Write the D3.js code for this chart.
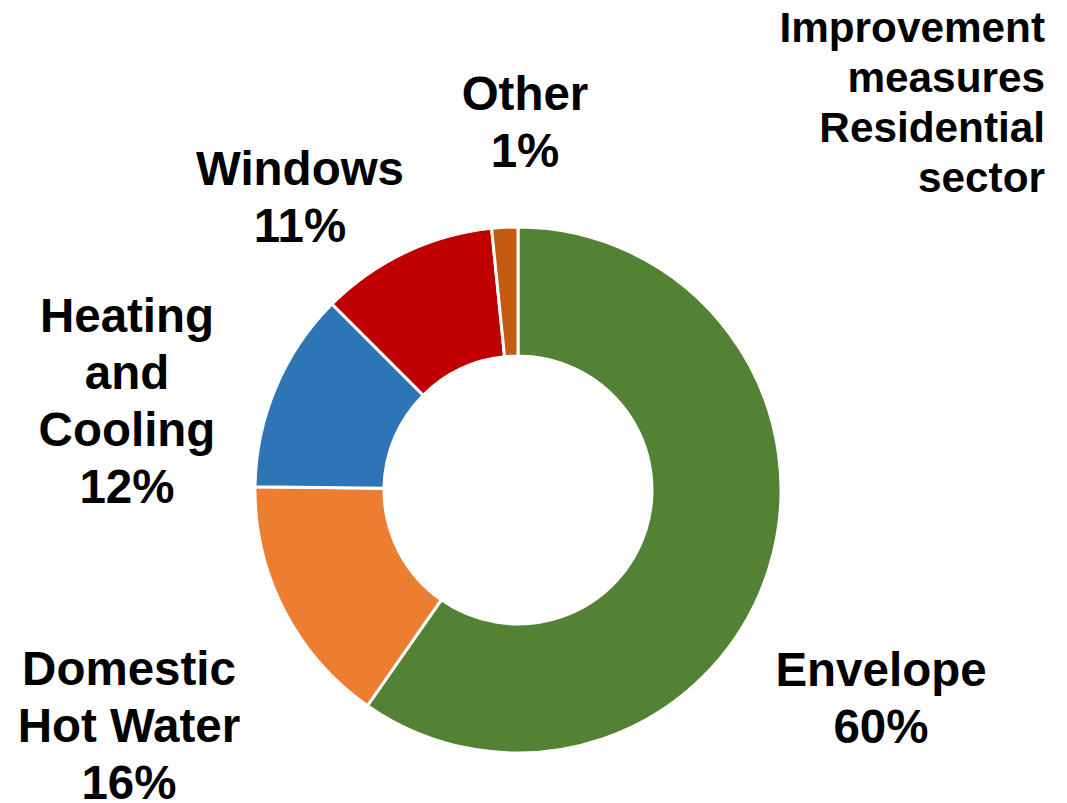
<!DOCTYPE html>
<html>
<head>
<meta charset="utf-8">
<script src="https://cdn.jsdelivr.net/npm/d3@7"></script>
<style>
  html, body { margin: 0; padding: 0; background: #ffffff; }
  svg { display: block; }
  text { font-family: "Liberation Sans", Arial, sans-serif; font-weight: bold; fill: #000; }
</style>
</head>
<body>
<svg id="chart" width="1067" height="803"></svg>
<script>
// ---- data ----
const categories = ["Envelope", "Domestic Hot Water", "Heating and Cooling", "Windows", "Other"];
const values = [59.7, 15.5, 12.3, 10.9, 1.6];
const percentLabels = ["60%", "16%", "12%", "11%", "1%"];
const labelLines = [["Envelope"], ["Domestic", "Hot Water"], ["Heating", "and", "Cooling"], ["Windows"], ["Other"]];
const colors = ["#548235", "#ED7D31", "#2E75B6", "#C00000", "#C55A11"];
const titleLines = ["Improvement", "measures", "Residential", "sector"];

// ---- layout ----
const W = 1067, H = 803;
const cx = 518, cy = 490, outerR = 263, innerR = 134;
// label anchor: center x, baseline of first line
const labelPos = [
  { x: 881, y: 686 },
  { x: 129, y: 685 },
  { x: 127, y: 332 },
  { x: 300, y: 185 },
  { x: 525, y: 110 }
];
const lineH = 57;

const svg = d3.select("#chart");

const pie = d3.pie().sort(null).value(d => d.value);
const arc = d3.arc().innerRadius(innerR).outerRadius(outerR);

const data = categories.map((c, i) => ({ name: c, value: values[i], color: colors[i], pct: percentLabels[i], lines: labelLines[i] }));

const g = svg.append("g").attr("transform", `translate(${cx},${cy})`);
g.selectAll("path")
  .data(pie(data))
  .join("path")
  .attr("d", arc)
  .attr("fill", d => d.data.color)
  .attr("stroke", "#ffffff")
  .attr("stroke-width", 3)
  .attr("stroke-linejoin", "miter");

// labels
data.forEach((d, i) => {
  const lines = d.lines.concat([d.pct]);
  const t = svg.append("text")
    .attr("text-anchor", "middle")
    .attr("font-size", 47.5);
  lines.forEach((ln, j) => {
    t.append("tspan")
      .attr("x", labelPos[i].x)
      .attr("y", labelPos[i].y + j * lineH)
      .text(ln);
  });
});

// title
const tt = svg.append("text")
  .attr("text-anchor", "end")
  .attr("font-size", 42.3);
titleLines.forEach((ln, j) => {
  tt.append("tspan")
    .attr("x", 1045)
    .attr("y", 42 + j * 50)
    .text(ln);
});
</script>
</body>
</html>
